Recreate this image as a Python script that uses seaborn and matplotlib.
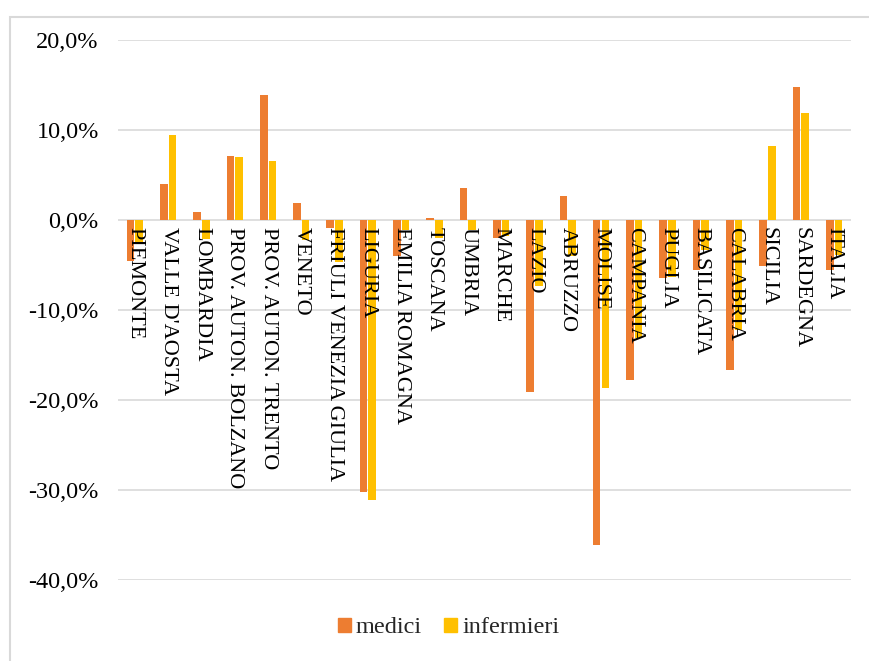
import matplotlib
matplotlib.use("Agg")
import matplotlib.pyplot as plt
import matplotlib.patches as mpatches
from matplotlib.ticker import FuncFormatter, MultipleLocator
import seaborn as sns
import pandas as pd

regioni = ["PIEMONTE", "VALLE D'AOSTA", "LOMBARDIA", "PROV. AUTON. BOLZANO",
           "PROV. AUTON. TRENTO", "VENETO", "FRIULI VENEZIA GIULIA", "LIGURIA",
           "EMILIA ROMAGNA", "TOSCANA", "UMBRIA", "MARCHE", "LAZIO", "ABRUZZO",
           "MOLISE", "CAMPANIA", "PUGLIA", "BASILICATA", "CALABRIA", "SICILIA",
           "SARDEGNA", "ITALIA"]
# variazione percentuale per regione e totale nazionale
medici = [-4.6, 4.0, 0.9, 7.1, 13.9, 1.8, -0.9, -30.3, -4.0, 0.2, 3.5, -2.0,
          -19.2, 2.6, -36.2, -17.8, -6.5, -5.6, -16.7, -5.2, 14.7, -5.6]
infermieri = [-2.6, 9.4, -2.1, 7.0, 6.5, -2.3, -4.7, -31.2, -1.1, -2.0, -1.1, -1.8,
              -7.4, -4.0, -18.7, -13.2, -6.4, -3.4, -12.3, 8.2, 11.9, -3.9]
serie = ["medici", "infermieri"]
colori = ["#ED7D31", "#FFC000"]

df = pd.DataFrame({
    "regione": regioni * 2,
    "serie": [serie[0]] * len(regioni) + [serie[1]] * len(regioni),
    "valore": medici + infermieri,
})

sns.set_theme(style="white")
plt.rcParams["font.family"] = ["Liberation Serif", "DejaVu Serif"]

fig = plt.figure(figsize=(8.69, 6.61), dpi=100)
ax = fig.add_axes([0.136, 0.123, 0.843, 0.817])

sns.barplot(data=df, x="regione", y="valore", hue="serie", order=regioni,
            hue_order=serie, palette=colori, saturation=1, width=0.52, gap=0.12,
            edgecolor="none", ax=ax, legend=False, zorder=3)

ax.set_ylim(-40, 20)
ax.set_xlim(-0.5, len(regioni) - 0.5)
ax.yaxis.set_major_locator(MultipleLocator(10))
ax.yaxis.set_major_formatter(FuncFormatter(lambda v, _: f"{v:.1f}%".replace(".", ",")))
ax.grid(axis="y", color="#D9D9D9", linewidth=1.2, zorder=0)
ax.set_axisbelow(True)
for s in ax.spines.values():
    s.set_visible(False)
ax.set_xlabel("")
ax.set_ylabel("")
ax.set_xticks([])
ax.tick_params(axis="y", length=0, pad=14, labelsize=17.5, labelcolor="#000000")

# nomi delle regioni sotto la linea dello zero, in verticale
for i, nome in enumerate(regioni):
    ax.annotate(nome, xy=(i, 0), xytext=(0, -5), textcoords="offset points",
                rotation=-90, ha="center", va="top", fontsize=16,
                color="#000000", zorder=4)

handles = [mpatches.Patch(color=c, label=s) for c, s in zip(colori, serie)]
fig.legend(handles=handles, loc="center", bbox_to_anchor=(0.516, 0.05), ncol=2,
           frameon=False, fontsize=17.5, handlelength=0.55, handleheight=0.55,
           handletextpad=0.2, columnspacing=0.9)

# cornice esterna del grafico
fig.patches.append(mpatches.Rectangle((9.5 / 869, -0.1), 1.2, 1.1 - 16.7 / 661,
                                      transform=fig.transFigure, fill=False,
                                      edgecolor="#D9D9D9", linewidth=1.5))

fig.savefig("out.png", dpi=100, facecolor="white")
